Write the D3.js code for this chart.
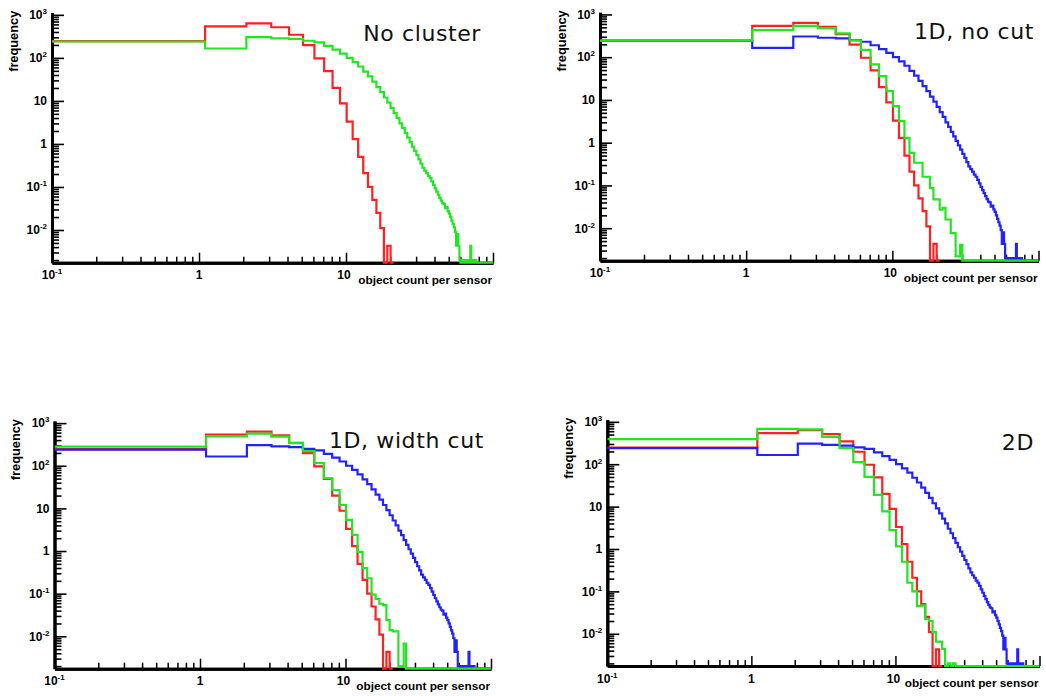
<!DOCTYPE html>
<html><head><meta charset="utf-8">
<script src="https://cdn.jsdelivr.net/npm/d3@7"></script>
<style>html,body{margin:0;padding:0;background:#fff;}svg{display:block}</style>
</head><body>
<svg id="chart" width="1046" height="696"></svg>
<script>
// ---------- data ----------
const binStart = 0.1;   // lower edge of first bin (bins of width 1)
const binWidth = 1;

const truthCounts = [245, 540, 635, 515, 345, 197, 97, 49, 20, 8.8,
  3.3, 1.3, 0.5, 0.21, 0.1, 0.05, 0.025, 0.011, 0, 0.0043, 0];

const noClusterCounts = [
  240, 165, 305, 285, 275, 250, 230, 190, 155, 126,
  100, 80, 63, 48, 37, 28, 21, 16, 12, 9.1,
  6.9, 5.2, 4.0, 3.0, 2.35, 1.8, 1.4, 1.1, 0.87, 0.69,
  0.55, 0.44, 0.35, 0.28, 0.24, 0.21, 0.18, 0.16, 0.135, 0.112,
  0.093, 0.078, 0.066, 0.056, 0.048, 0.042, 0.04, 0.032, 0.034, 0.0275,
  0.024, 0.02, 0.0166, 0.0138, 0.0115, 0.009, 0.0043, 0.008, 0.0043, 0.002,
  0, 0.002, 0, 0.002, 0, 0.002, 0, 0, 0.002, 0,
  0.0043, 0, 0.002, 0, 0.002, 0, 0.002, 0, 0, 0,
  0, 0, 0, 0, 0, 0, 0, 0, 0, 0,
  0, 0, 0, 0, 0, 0, 0, 0, 0, 0];

const oneDNoCutCounts = [
  245, 430, 540, 480, 360, 247, 148, 68, 36, 16,
  7.2, 3.2, 1.3, 0.58, 0.34, 0.34, 0.16, 0.16, 0.087, 0.047,
  0.047, 0.027, 0.03, 0.016, 0.016, 0.0077, 0.0077, 0.0022, 0.0022, 0.0041,
  0, 0, 0, 0, 0, 0, 0, 0, 0, 0,
  0, 0, 0, 0, 0, 0, 0, 0, 0, 0,
  0, 0, 0, 0, 0, 0, 0, 0, 0, 0,
  0, 0, 0, 0, 0, 0, 0, 0, 0, 0,
  0, 0, 0, 0, 0, 0, 0, 0, 0, 0,
  0, 0, 0, 0, 0, 0, 0, 0, 0, 0,
  0, 0, 0, 0, 0, 0, 0, 0, 0, 0];

const oneDWidthCutCounts = [
  280, 490, 565, 480, 340, 220, 116, 51, 27, 12,
  5.4, 2.4, 0.96, 0.4, 0.23, 0.095, 0.075, 0.058, 0.054, 0.024,
  0.014, 0.013, 0.013, 0.002, 0.002, 0.0067, 0, 0, 0, 0,
  0, 0, 0, 0, 0, 0, 0, 0, 0, 0,
  0, 0, 0, 0, 0, 0, 0, 0, 0, 0,
  0, 0, 0, 0, 0, 0, 0, 0, 0, 0,
  0, 0, 0, 0, 0, 0, 0, 0, 0, 0,
  0, 0, 0, 0, 0, 0, 0, 0, 0, 0,
  0, 0, 0, 0, 0, 0, 0, 0, 0, 0,
  0, 0, 0, 0, 0, 0, 0, 0, 0, 0];

const twoDCounts = [
  390, 680, 660, 440, 240, 112, 50, 19, 7.7, 2.8,
  1.15, 0.5, 0.16, 0.1, 0.045, 0.047, 0.022, 0.02, 0.011, 0.0065,
  0.0065, 0.0044, 0, 0.002, 0, 0.002, 0, 0, 0, 0,
  0, 0, 0, 0, 0, 0, 0, 0, 0, 0,
  0, 0, 0, 0, 0, 0, 0, 0, 0, 0,
  0, 0, 0, 0, 0, 0, 0, 0, 0, 0,
  0, 0, 0, 0, 0, 0, 0, 0, 0, 0,
  0, 0, 0, 0, 0, 0, 0, 0, 0, 0,
  0, 0, 0, 0, 0, 0, 0, 0, 0, 0,
  0, 0, 0, 0, 0, 0, 0, 0, 0, 0];

const panelTitles = ["No cluster", "1D, no cut", "1D, width cut", "2D"];
const xTickLabels = [{v: 0.1, base: "10", sup: "-1"}, {v: 1, base: "1", sup: ""}, {v: 10, base: "10", sup: ""}];
const yTickLabels = [
  {v: 1e3, base: "10", sup: "3"}, {v: 1e2, base: "10", sup: "2"}, {v: 10, base: "10", sup: ""},
  {v: 1, base: "1", sup: ""}, {v: 0.1, base: "10", sup: "-1"}, {v: 0.01, base: "10", sup: "-2"}];
const xTitle = "object count per sensor";
const yTitle = "frequency";
const xDomain = [0.1, 100];
const yDomain = [Math.pow(10, -2.76), Math.pow(10, 3.05)];

// ---------- layout / style ----------
const RED = "#ff2020", GREEN = "#22e622", BLUE = "#2222ff";
const panels = [
  {title: panelTitles[0], box: {l: 52, r: 493, t: 12.7, b: 262.7}, tx: 481, ty: 40.7,
   series: [[truthCounts, RED], [noClusterCounts, GREEN]]},
  {title: panelTitles[1], box: {l: 600, r: 1038.5, t: 12.3, b: 260.7}, tx: 1034, ty: 39.3,
   series: [[truthCounts, RED], [noClusterCounts, BLUE], [oneDNoCutCounts, GREEN]]},
  {title: panelTitles[2], box: {l: 54.5, r: 491, t: 421, b: 668.7}, tx: 484, ty: 448.3,
   series: [[truthCounts, RED], [noClusterCounts, BLUE], [oneDWidthCutCounts, GREEN]]},
  {title: panelTitles[3], box: {l: 607.3, r: 1039.5, t: 419.7, b: 666}, tx: 1034, ty: 450,
   series: [[truthCounts, RED], [noClusterCounts, BLUE], [twoDCounts, GREEN]]}
];

const svg = d3.select("#chart");
const FONT = "'Liberation Sans', Arial, Helvetica, sans-serif";

function logMinor(domain) {
  const out = [];
  for (let e = -4; e <= 4; e++) for (let m = 2; m <= 9; m++) {
    const v = m * Math.pow(10, e);
    if (v >= domain[0] && v <= domain[1]) out.push(v);
  }
  return out;
}
function logMajor(domain) {
  const out = [];
  for (let e = -4; e <= 4; e++) { const v = Math.pow(10, e); if (v >= domain[0] * 0.999 && v <= domain[1] * 1.001) out.push(v); }
  return out;
}

function addLabel(g, x, y, lab, anchor) {
  const t = g.append("text").attr("x", x).attr("y", y)
    .attr("text-anchor", anchor).attr("font-family", FONT).attr("font-weight", "bold")
    .attr("font-size", 12).attr("fill", "#000");
  t.append("tspan").text(lab.base);
  if (lab.sup) t.append("tspan").attr("font-size", 8).attr("dy", -5).text(lab.sup);
}

panels.forEach((p, pi) => {
  const {l, r, t, b} = p.box;
  const x = d3.scaleLog().domain(xDomain).range([l, r]);
  const y = d3.scaleLog().domain(yDomain).range([b, t]);
  const g = svg.append("g");

  const yMinor = d3.axisRight(y).tickValues(logMinor(yDomain)).tickSize(7).tickSizeOuter(0).tickFormat("");
  const yMajor = d3.axisRight(y).tickValues(logMajor(yDomain)).tickSize(12).tickSizeOuter(0).tickFormat("");
  [yMinor, yMajor].forEach(ax => {
    const ga = g.append("g").attr("transform", `translate(${l},0)`).call(ax);
    ga.selectAll(".tick line").attr("stroke", "#000").attr("stroke-width", 1.6);
    ga.select(".domain").attr("stroke", "#000").attr("stroke-width", 3);
  });
  const xMinor = d3.axisTop(x).tickValues(logMinor(xDomain)).tickSize(6).tickSizeOuter(0).tickFormat("");
  const xMajor = d3.axisTop(x).tickValues(logMajor(xDomain)).tickSize(10).tickSizeOuter(0).tickFormat("");
  [xMinor, xMajor].forEach(ax => {
    const ga = g.append("g").attr("transform", `translate(0,${b})`).call(ax);
    ga.selectAll(".tick line").attr("stroke", "#000").attr("stroke-width", 1.5);
    ga.select(".domain").attr("stroke", "#000").attr("stroke-width", 3);
  });

  yTickLabels.forEach(lab => addLabel(g, l - 5, y(lab.v) + 4.3, lab, "end"));
  xTickLabels.forEach(lab => addLabel(g, x(lab.v) - (lab.v === 10 ? 2 : 0), b + 16.5, lab, "middle"));

  g.append("text").attr("x", r - 1).attr("y", b + 21).attr("text-anchor", "end")
    .attr("font-family", FONT).attr("font-weight", "bold").attr("font-size", 11.8).text(xTitle);
  g.append("text").attr("transform", `translate(${l - 34.5},${t - 2}) rotate(-90)`)
    .attr("text-anchor", "end").attr("font-family", FONT).attr("font-weight", "bold")
    .attr("font-size", 12.8).text(yTitle);

  const clipId = "clip" + pi;
  svg.append("clipPath").attr("id", clipId).append("rect")
    .attr("x", l).attr("y", t - 2).attr("width", r - l).attr("height", b - t + 4);
  const line = d3.line()
    .x(d => x(Math.min(d[0], xDomain[1])))
    .y(d => d[1] > yDomain[0] ? y(d[1]) : y(yDomain[0]));
  p.series.forEach(([vals, col]) => {
    const pts = [];
    vals.forEach((v, i) => {
      const lo = binStart + i * binWidth, hi = lo + binWidth;
      pts.push([lo, v], [hi, v]);
    });
    g.append("path").attr("clip-path", `url(#${clipId})`).attr("d", line(pts))
      .attr("fill", "none").attr("stroke", col).attr("stroke-width", 2.2)
      .attr("stroke-linejoin", "miter");
  });

  svg.append("text").attr("x", p.tx).attr("y", p.ty).attr("text-anchor", "end")
    .attr("font-family", "'DejaVu Sans', sans-serif").attr("font-size", 22)
    .attr("letter-spacing", 0.6).attr("fill", "#111").text(p.title);
});
</script>
</body></html>
